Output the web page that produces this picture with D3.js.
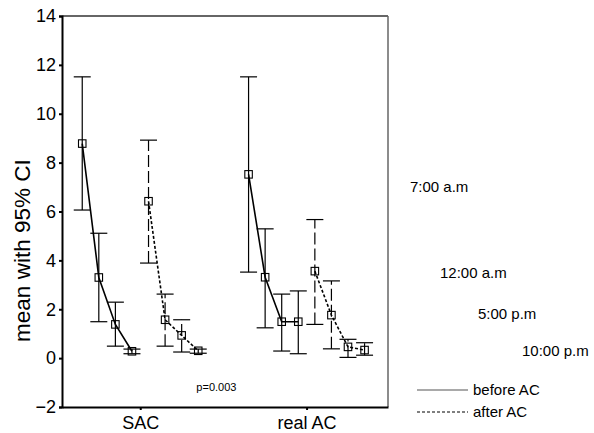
<!DOCTYPE html>
<html>
<head>
<meta charset="utf-8">
<script src="https://cdn.jsdelivr.net/npm/d3@7"></script>
<style>
  html, body { margin: 0; padding: 0; background: #fff; }
  svg { display: block; font-family: "Liberation Sans", Arial, sans-serif; }
</style>
</head>
<body>
<div id="chart"></div>
<script>
// Clustered error bars: mean with 95% CI, per group / phase / time of day

const GROUPS = ["SAC", "real AC"];
const TIMES  = ["7:00 a.m", "12:00 a.m", "5:00 p.m", "10:00 p.m"];
const PHASES = ["before AC", "after AC"];
const Y_TICKS = [-2, 0, 2, 4, 6, 8, 10, 12, 14];

// values, one entry per time of day
const SAC_BEFORE_MEAN = [8.78, 3.30, 1.38, 0.28];
const SAC_BEFORE_LOW  = [6.06, 1.49, 0.49, 0.18];
const SAC_BEFORE_HIGH = [11.51, 5.11, 2.29, 0.37];

const SAC_AFTER_MEAN  = [6.42, 1.57, 0.93, 0.30];
const SAC_AFTER_LOW   = [3.89, 0.49, 0.25, 0.20];
const SAC_AFTER_HIGH  = [8.92, 2.62, 1.57, 0.37];

const REAL_BEFORE_MEAN = [7.52, 3.31, 1.49, 1.49];
const REAL_BEFORE_LOW  = [3.52, 1.24, 0.29, 0.18];
const REAL_BEFORE_HIGH = [11.51, 5.29, 2.62, 2.75];

const REAL_AFTER_MEAN  = [3.56, 1.76, 0.46, 0.33];
const REAL_AFTER_LOW   = [1.38, 0.38, 0.03, 0.12];
const REAL_AFTER_HIGH  = [5.67, 3.16, 0.77, 0.63];

const P_NOTE = "p=0.003";
const Y_LABEL = "mean with 95% CI";

/* ── build rows ── */
const TABLE = {
  "SAC":     { "before AC": [SAC_BEFORE_MEAN, SAC_BEFORE_LOW, SAC_BEFORE_HIGH],
               "after AC":  [SAC_AFTER_MEAN, SAC_AFTER_LOW, SAC_AFTER_HIGH] },
  "real AC": { "before AC": [REAL_BEFORE_MEAN, REAL_BEFORE_LOW, REAL_BEFORE_HIGH],
               "after AC":  [REAL_AFTER_MEAN, REAL_AFTER_LOW, REAL_AFTER_HIGH] }
};
const series = [];
GROUPS.forEach(g => PHASES.forEach(p => {
  const [m, lo, hi] = TABLE[g][p];
  series.push({ group: g, phase: p,
    points: TIMES.map((t, i) => ({ group: g, phase: p, time: t, key: p + "|" + t, mean: m[i], low: lo[i], high: hi[i] })) });
}));

/* ── layout ── */
const totalW = 594, totalH = 433;
const margin = { top: 16, right: 206, bottom: 26, left: 62 };
const W = totalW - margin.left - margin.right;
const H = totalH - margin.top - margin.bottom;

const svg = d3.select("#chart").append("svg")
  .attr("width", totalW).attr("height", totalH);
const g = svg.append("g").attr("transform", `translate(${margin.left},${margin.top})`);

/* ── scales ── */
const y = d3.scaleLinear().domain([-2, 14]).range([H, 0]);
const x = d3.scalePoint().domain(GROUPS).range([0, W]).padding(0.48).align(0.49);
const subKeys = [];
PHASES.forEach(p => TIMES.forEach(t => subKeys.push(p + "|" + t)));
const xs = d3.scalePoint().domain(subKeys).range([-58, 58]);
const px = d => x(d.group) + xs(d.key);

/* ── frame ── */
g.append("line").attr("x1", 0).attr("x2", W).attr("y1", 0).attr("y2", 0)
  .attr("stroke", "#333").attr("stroke-width", 1.5);
g.append("line").attr("x1", W).attr("x2", W).attr("y1", 0).attr("y2", H)
  .attr("stroke", "#666").attr("stroke-width", 1.5);

/* ── axes ── */
g.append("g")
  .call(d3.axisLeft(y).tickValues(Y_TICKS).tickSize(3).tickPadding(3).tickFormat(d3.format("d")))
  .call(ax => ax.select(".domain").attr("stroke", "#000").attr("stroke-width", 2))
  .call(ax => ax.selectAll(".tick line").attr("stroke", "#000").attr("stroke-width", 2))
  .selectAll("text").attr("font-size", 18).attr("fill", "#000")
  .attr("font-family", "Liberation Sans, Arial, sans-serif");

g.append("g").attr("transform", `translate(0,${H})`)
  .call(d3.axisBottom(x).tickSize(3).tickPadding(6).tickSizeOuter(0))
  .call(ax => ax.select(".domain").attr("stroke", "#000").attr("stroke-width", 2))
  .call(ax => ax.selectAll(".tick line").attr("stroke", "#000").attr("stroke-width", 2))
  .selectAll("text").attr("font-size", 18).attr("fill", "#000")
  .attr("font-family", "Liberation Sans, Arial, sans-serif");

/* ── axis label ── */
svg.append("text")
  .attr("transform", `translate(30,${margin.top + y(4.4)}) rotate(-90)`)
  .attr("text-anchor", "middle").attr("font-size", 22.5).attr("fill", "#000")
  .text(Y_LABEL);

/* ── error bars ── */
const capW = 8.5;
const bars = g.selectAll("g.bar")
  .data(series.flatMap(s => s.points))
  .join("g").attr("class", "bar");

bars.append("line")
  .attr("x1", px).attr("x2", px)
  .attr("y1", d => y(d.low)).attr("y2", d => y(d.high))
  .attr("stroke", "#000").attr("stroke-width", 1.2)
  .attr("stroke-dasharray", d => d.phase === "after AC" ? "12,4" : null);
bars.append("line")
  .attr("x1", d => px(d) - capW).attr("x2", d => px(d) + capW)
  .attr("y1", d => y(d.high)).attr("y2", d => y(d.high))
  .attr("stroke", "#000").attr("stroke-width", 1.2);
bars.append("line")
  .attr("x1", d => px(d) - capW).attr("x2", d => px(d) + capW)
  .attr("y1", d => y(d.low)).attr("y2", d => y(d.low))
  .attr("stroke", "#000").attr("stroke-width", 1.2);

/* ── connecting lines ── */
const line = d3.line().x(px).y(d => y(d.mean));
g.selectAll("path.conn")
  .data(series)
  .join("path").attr("class", "conn")
  .attr("d", s => line(s.points))
  .attr("fill", "none").attr("stroke", "#000").attr("stroke-width", 1.6)
  .attr("stroke-dasharray", s => s.phase === "after AC" ? "3,2" : null);

/* ── markers ── */
const mk = 7.5;
g.selectAll("rect.mk")
  .data(series.flatMap(s => s.points))
  .join("rect").attr("class", "mk")
  .attr("x", d => px(d) - mk / 2).attr("y", d => y(d.mean) - mk / 2)
  .attr("width", mk).attr("height", mk)
  .attr("fill", "none").attr("stroke", "#000").attr("stroke-width", 1.1);

/* ── p value ── */
g.append("text")
  .attr("x", (x(GROUPS[0]) + x(GROUPS[1])) / 2 - 7).attr("y", y(-1.35))
  .attr("text-anchor", "middle").attr("font-size", 11).attr("fill", "#000")
  .text(P_NOTE);

/* ── time labels on the right ── */
const TIME_POS = [[410, 192], [440, 278], [478, 319], [522, 356]];
svg.selectAll("text.time")
  .data(TIMES)
  .join("text").attr("class", "time")
  .attr("x", (d, i) => TIME_POS[i][0]).attr("y", (d, i) => TIME_POS[i][1])
  .attr("font-size", 15).attr("fill", "#000")
  .text(d => d);

/* ── legend ── */
const legend = svg.append("g").attr("transform", "translate(417,390)");
PHASES.forEach((p, i) => {
  const row = legend.append("g").attr("transform", `translate(0,${i * 22})`);
  row.append("line").attr("x1", 0).attr("x2", 51).attr("y1", 0).attr("y2", 0)
    .attr("stroke", i === 0 ? "#555" : "#000").attr("stroke-width", 1.2)
    .attr("stroke-dasharray", i === 0 ? null : "3,2");
  row.append("text").attr("x", 56).attr("y", 5)
    .attr("font-size", 15).attr("fill", "#000").text(p);
});
</script>
</body>
</html>
